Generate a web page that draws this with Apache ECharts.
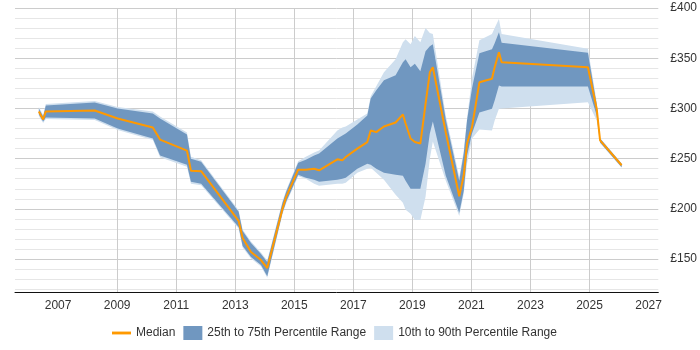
<!DOCTYPE html>
<html>
<head>
<meta charset="utf-8">
<script src="https://cdn.jsdelivr.net/npm/echarts@6/dist/echarts.min.js"></script>
<style>
html, body { margin: 0; padding: 0; background: #fff; }
#chart { width: 700px; height: 350px; }
</style>
</head>
<body>
<div id="chart"></div>
<script>
// dates as decimal years
var years = [2006.348, 2006.493, 2006.584, 2008.240, 2009.017, 2010.209, 2010.453, 2011.365, 2011.500, 2011.845,
    2013.115, 2013.250, 2013.534, 2013.872, 2014.084, 2014.601, 2014.726, 2015.132, 2015.392, 2015.672,
    2015.841, 2016.459, 2016.628, 2016.743, 2017.135, 2017.473, 2017.588, 2017.777, 2018.037, 2018.432,
    2018.679, 2018.770, 2018.939, 2019.084, 2019.270, 2019.446, 2019.591, 2019.693, 2020.132, 2020.588,
    2020.740, 2020.851, 2021.020, 2021.270, 2021.696, 2021.787, 2021.932, 2022.024, 2024.946, 2025.243,
    2025.358, 2026.088];
var median = [297, 289, 297, 298, 290, 281, 269, 258, 238, 237.5,
    188, 171, 157, 149, 141, 200, 212, 239, 239, 240,
    238.4, 249.3, 248.3, 251.6, 260, 266.5, 278, 276.4, 282, 286,
    294, 285, 270, 266.5, 265, 304.6, 336, 341, 276, 212.6,
    233.4, 265, 281.4, 326, 329.5, 341, 356, 346, 341, 299.7,
    268.2, 243.4];
var p25 = [294, 287, 291, 290, 280, 270, 253, 244, 227, 225,
    182, 163, 152, 144, 133, 196, 207, 234, 231, 229,
    227, 229, 230, 231, 240, 245, 244, 240, 236, 234,
    233, 228, 220, 220, 220, 245, 275, 287, 233, 196,
    218, 253, 275, 296, 299.7, 308, 322.8, 321.8, 321.8, 293,
    266, 241.5];
var p75 = [300, 292, 303, 306, 300, 295, 290, 274, 250, 247,
    197, 178, 166, 155, 147, 206, 217, 246, 249, 253,
    255, 270, 273, 275, 284, 293, 310, 318, 328, 333,
    346, 349, 341, 344.4, 337, 357, 362, 364, 289, 228,
    255, 288, 320, 355, 359, 365, 375.8, 365.5, 355.5, 304,
    270, 245];
var p10 = [292.5, 285.5, 289.5, 288.5, 278.5, 268.5, 251.5, 242, 225, 223.5,
    180.5, 161.5, 150.5, 142.5, 131.5, 194.5, 205.5, 232.5, 230, 225,
    223, 225, 225, 226, 236, 240, 241, 236, 229, 214,
    206, 199, 195, 189, 189, 212, 250, 267, 228, 193,
    215, 245, 270, 279, 278, 288, 299.7, 300, 306.2, 288,
    265.5, 241];
var p90 = [301.5, 293.5, 304.5, 307.5, 301.5, 297, 292, 276, 252, 248.5,
    198.5, 179.5, 167.5, 156.5, 148.5, 207.5, 218.5, 247.5, 252, 256,
    258, 278, 281, 282, 289, 295, 312, 322, 336, 349,
    366, 369, 364, 372, 366, 380, 375, 374, 293, 232,
    258, 290, 330, 368, 374, 380, 389, 374, 359.3, 307,
    270.5, 245.5];

var yearTicks = [2007, 2009, 2011, 2013, 2015, 2017, 2019, 2021, 2023, 2025, 2027];
var priceLabels = [150, 200, 250, 300, 350, 400];
var priceLines = [120, 130, 140, 150, 160, 170, 180, 190, 200, 210, 220, 230, 240, 250, 260, 270,
    280, 290, 300, 310, 320, 330, 340, 350, 360, 370, 380, 390, 400];

var darkBand = '#7097c0';
var lightBand = '#cfdfee';
var font = 'Liberation Sans, Arial';

// [year, low, high] rows for a band
function bandData(lo, hi) {
    return years.map(function (y, i) { return [y, lo[i], hi[i]]; });
}

// draws the whole band as one polygon, upper edge then lower edge backwards
function bandItem(color) {
    return function (params, api) {
        if (params.dataIndex !== 0) return;
        var n = params.dataInsideLength;
        var top = [], bottom = [];
        for (var i = 0; i < n; i++) {
            top.push(api.coord([api.value(0, i), api.value(2, i)]));
            bottom.unshift(api.coord([api.value(0, i), api.value(1, i)]));
        }
        return {
            type: 'polygon',
            shape: { points: top.concat(bottom) },
            style: { fill: color }
        };
    };
}

var chart = echarts.init(document.getElementById('chart'));
var option = {
    animation: false,
    grid: { left: 15, right: 40, top: 8, bottom: 58 },
    legend: {
        left: 107,
        bottom: 5,
        itemWidth: 19,
        itemHeight: 14,
        itemGap: 8,
        textStyle: { fontFamily: font, fontSize: 12, color: '#333' },
        data: [
            { name: 'Median', icon: 'path://M0,0H20V3H0Z' },
            { name: '25th to 75th Percentile Range', icon: 'rect' },
            { name: '10th to 90th Percentile Range', icon: 'rect' }
        ]
    },
    xAxis: {
        type: 'value',
        min: 2005.54,
        max: 2027.33,
        axisLine: { lineStyle: { color: '#111', width: 1 } },
        axisTick: { show: false, customValues: yearTicks },
        axisLabel: {
            customValues: yearTicks,
            formatter: function (v) { return String(v); },
            color: '#333',
            fontFamily: font,
            fontSize: 12,
            margin: 8
        },
        splitLine: { show: true, showMinLine: false, showMaxLine: false, lineStyle: { color: '#cccccc' } }
    },
    yAxis: {
        type: 'value',
        position: 'right',
        min: 117.2,
        max: 400,
        axisLine: { show: false },
        axisTick: { show: false, customValues: priceLines },
        axisLabel: {
            customValues: priceLabels,
            formatter: '£{value}',
            color: '#333',
            fontFamily: font,
            fontSize: 12,
            margin: 12
        },
        splitLine: {
            show: true,
            lineStyle: { color: ['#e6e6e6', '#e6e6e6', '#e6e6e6', '#cccccc', '#e6e6e6'] }
        }
    },
    series: [
        {
            name: '10th to 90th Percentile Range',
            type: 'custom',
            data: bandData(p10, p90),
            encode: { x: 0, y: [1, 2] },
            itemStyle: { color: lightBand },
            renderItem: bandItem(lightBand)
        },
        {
            name: '25th to 75th Percentile Range',
            type: 'custom',
            data: bandData(p25, p75),
            encode: { x: 0, y: [1, 2] },
            itemStyle: { color: darkBand },
            renderItem: bandItem(darkBand)
        },
        {
            name: 'Median', type: 'line',
            data: years.map(function (y, i) { return [y, median[i]]; }),
            symbol: 'none',
            itemStyle: { color: '#ff9900' },
            lineStyle: { color: '#ff9900', width: 2 }
        }
    ]
};
chart.setOption(option);
</script>
</body>
</html>
